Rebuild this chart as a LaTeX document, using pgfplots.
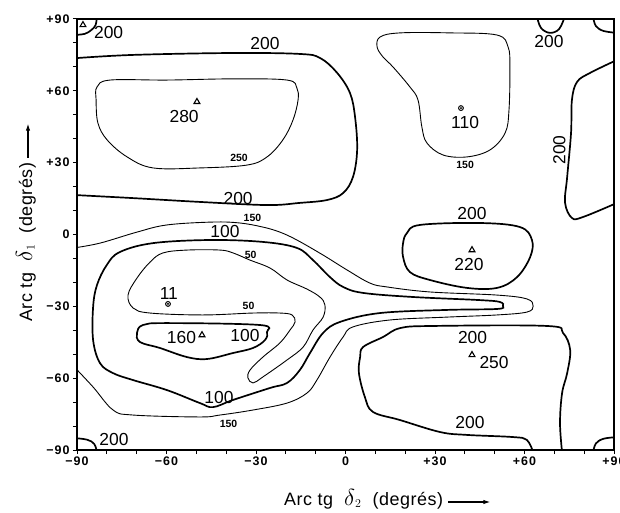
\documentclass[border=0pt]{standalone}
\usepackage{fontspec}
\setmainfont{Liberation Sans}
\usepackage{pgfplots}
\pgfplotsset{compat=1.18}
\usetikzlibrary{arrows.meta}

\begin{document}
\begin{tikzpicture}[
  big/.style={font=\fontsize{17.5}{18}\selectfont, inner sep=0.5pt},
  small/.style={font=\bfseries\fontsize{10.5}{11}\selectfont, inner sep=0.5pt},
  thickc/.style={line width=1.7pt, smooth, tension=0.6},
  thinc/.style={line width=0.9pt, smooth, tension=0.6},
  lbl/.style={font=\addfontfeature{LetterSpace=3}\fontsize{18}{18}\selectfont, inner sep=0pt},
]
\begin{axis}[
  scale only axis, width=537bp, height=431bp,
  xmin=-90, xmax=90, ymin=-90, ymax=90,
  axis line style={line width=1.6pt},
  xtick={-90,-60,-30,0,30,60,90},
  ytick={-90,-60,-30,0,30,60,90},
  xticklabels={−90,−60,−30,0,+30,+60,+90},
  yticklabels={−90,−60,−30,0,+30,+60,+90},
  minor tick num=2,
  tick pos=left, tick align=outside,
  major tick length=4bp, minor tick length=4bp,
  every tick/.style={black, line width=1pt},
  ticklabel style={font=\bfseries\addfontfeature{LetterSpace=8}\fontsize{12.5}{13}\selectfont},
  xticklabel style={yshift=1bp},
]
\coordinate (bl) at (rel axis cs:0,0);
\coordinate (tr) at (rel axis cs:1,1);

% corner arcs (200)
\addplot[thickc] coordinates {(-91,83.3) (-87.4,83.8) (-85.3,85.3) (-83.8,87.4) (-83.3,91)};
\addplot[thickc] coordinates {(83,91) (83.9,87.1) (86.5,85.0) (91,84.2)};
\addplot[thickc] coordinates {(-91,-85) (-86.6,-85.7) (-84.2,-87.5) (-83.3,-91)};
\addplot[thickc] coordinates {(83,-91) (83.9,-87.3) (86.5,-85.3) (91,-84.6)};
\addplot[thickc] coordinates {(64.2,91) (65.5,86.3) (68.5,84.2) (71.6,85.8) (73.5,91)};

% 200 upper band
\addplot[thickc] coordinates {(-91,73.6) (-71.2,75.0) (-37.7,75.8) (-15.3,75.4) (-8.5,73.7)
  (-2.8,67.5) (1.5,59.1) (3.2,49.1) (3.9,35.3) (2.5,24.0) (-0.8,17.3) (-6.2,14.4)
  (-15.3,13.2) (-26.3,12.3) (-48.8,13.6) (-71.2,15.2) (-91,16.5)};

% 250 around 280
\addplot[thinc, smooth cycle] coordinates {(-78.9,64.5) (-59.8,64.5) (-37.7,65.0) (-19.6,64.5)
  (-16.3,61.2) (-15.9,56.2) (-17.6,47.8) (-21.0,39.5) (-26.3,32.4) (-33.0,29.0) (-48.8,27.8)
  (-64.5,27.8) (-73.2,32.4) (-79.9,39.5) (-83.0,46.6) (-83.6,56.2) (-83.3,61.6)};

% 150 around 110
\addplot[thinc, smooth cycle] coordinates {(11.6,82.5) (18.3,84.2) (35.0,84.2) (50.8,83.3)
  (54.5,78.3) (55.1,70.0) (54.8,52.0) (53.5,42.4) (48.4,35.3) (40.7,32.4) (32.7,33.2)
  (27.3,38.2) (25.6,44.9) (24.3,56.2) (21.6,61.6) (15.9,70.0) (12.6,74.1) (10.6,78.3)};

% 200 right
\addplot[thickc] coordinates {(91,72.9) (82,67.5) (77.6,63.7) (75.9,56.2) (75.6,42.4)
  (74.3,24.0) (73.6,13.2) (75.9,6.9) (79.6,7.3) (91,13.2)};

% 200 around 220
\addplot[thickc, smooth cycle] coordinates {(20.6,0.6) (25.0,4.0) (45.1,4.8) (58.5,3.1)
  (62.5,-2.3) (61.9,-9.4) (57.5,-17.8) (50.8,-22.3) (40.7,-22.3) (28.3,-19.0) (21.6,-15.7)
  (19.3,-9.4) (19.3,-3.6)};

% 200 around 250
\addplot[thickc] coordinates {(62.9,-91) (60.8,-85.8) (56.2,-84.6) (40.7,-83.7) (31.7,-82.5)
  (18.3,-77.5) (9.2,-74.1) (6.5,-67.9) (4.5,-57.9) (4.9,-51.2) (5.9,-47.0) (12.6,-42.8)
  (18.3,-39.1) (29.3,-38.2) (67.5,-38.2) (72.9,-41.1) (75.3,-48.2) (74.3,-57.9) (72.6,-66.2)
  (71.9,-78.7) (72.6,-91)};

% 150 lower left with tongue
\addplot[thinc] coordinates {(-91,-5.6) (-82.3,-3.6) (-69.9,1.0) (-59.8,4.0) (-44.4,5.2)
  (-35.4,4.8) (-27.7,3.1) (-22.0,1.0) (-16.3,-2.3) (-7.5,-8.6) (0.5,-14.8) (8.2,-20.3)
  (13.9,-21.9) (28.3,-24.0) (50.8,-25.3) (60.8,-26.9) (62.9,-29.9) (60.8,-32.4) (50.8,-33.6)
  (34.0,-34.5) (14.9,-35.7) (2.5,-38.6) (-0.8,-42.8) (-5.2,-51.2) (-9.6,-60.8) (-12.9,-66.2)
  (-19.6,-70.4) (-31.0,-73.3) (-42.1,-75.4) (-48.8,-76.2) (-71.2,-75.4) (-77.9,-73.3)
  (-84.6,-63.7) (-91,-55.2)};

% 100 outer loop
\addplot[thickc, smooth cycle] coordinates {(-84.6,-44.1) (-84.6,-30.3) (-83.3,-21.1)
  (-80.0,-12.7) (-75.6,-7.3) (-64.5,-3.6) (-45.4,-2.3) (-27.7,-3.1) (-16.3,-5.6) (-10.9,-10.7)
  (-5.2,-17.8) (-0.8,-21.9) (5.9,-24.4) (22.6,-26.1) (45.1,-27.4) (51.8,-28.2) (52.8,-29.9)
  (50.8,-31.1) (34.0,-31.5) (11.6,-32.8) (-1.8,-36.5) (-7.5,-41.1) (-11.9,-49.5) (-15.3,-56.6)
  (-19.6,-62.0) (-25.3,-64.1) (-37.7,-69.1) (-44.4,-72.1) (-48.8,-70.4) (-59.8,-65.0)
  (-71.2,-60.8) (-77.9,-57.9) (-82.3,-53.7)};

% 50 hook
\addplot[thinc, smooth cycle] coordinates {(-72.9,-25.3) (-69.9,-18.2) (-65.5,-11.5)
  (-61.2,-7.7) (-53.1,-6.5) (-42.1,-6.5) (-37.7,-7.7) (-32.0,-10.7) (-25.3,-14.0) (-19.6,-19.0)
  (-12.9,-22.8) (-8.6,-26.1) (-6.9,-29.4) (-7.5,-34.5) (-10.9,-39.9) (-14.2,-47.0) (-19.6,-52.4)
  (-27.7,-59.5) (-31.0,-62.0) (-32.7,-59.9) (-32.0,-56.6) (-27.7,-51.2) (-22.0,-45.3)
  (-18.6,-39.9) (-16.9,-36.5) (-17.9,-33.6) (-22.0,-32.8) (-31.0,-32.8) (-47.8,-33.6)
  (-65.5,-32.8) (-71.2,-30.7)};

% 100 around 160
\addplot[thickc, smooth cycle] coordinates {(-69.9,-41.1) (-67.9,-37.8) (-59.8,-37.0)
  (-28.7,-37.8) (-26.3,-40.7) (-27.0,-44.1) (-31.0,-47.4) (-37.7,-49.5) (-46.4,-52.0)
  (-53.1,-51.2) (-62.2,-47.4) (-68.9,-44.9)};

% extrema
\addplot[only marks, mark=triangle, mark size=3.4bp, line width=1.1pt] coordinates
  {(-88,87.5) (-49.8,55.4) (42.4,-6.5) (42.4,-50.3) (-48.1,-42.0)};
\addplot[only marks, mark=o, mark size=2.4bp, line width=1pt] coordinates
  {(38.7,52.8) (-59.5,-29.0)};
\addplot[only marks, mark=*, mark size=0.7bp] coordinates {(38.7,52.8) (-59.5,-29.0)};

% contour labels
\node[big] at (axis cs:-79.4,84.2) {200};
\node[big] at (axis cs:-27.0,79.6) {200};
\node[big] at (axis cs:-54.1,49.2) {280};
\node[big] at (axis cs:-36.0,15.0) {200};
\node[big] at (axis cs:-40.4,1.25) {100};
\node[big] at (axis cs:-59.2,-24.6) {11};
\node[big] at (axis cs:-55.0,-43.2) {160};
\node[big] at (axis cs:-33.7,-42.2) {100};
\node[big] at (axis cs:-42.4,-68.1) {100};
\node[big] at (axis cs:-77.6,-85.8) {200};
\node[big] at (axis cs:40.1,46.8) {110};
\node[big] at (axis cs:68.2,80.6) {200};
\node[big, rotate=90] at (axis cs:71.7,35.3) {200};
\node[big] at (axis cs:42.4,8.8) {200};
\node[big] at (axis cs:41.4,-12.5) {220};
\node[big] at (axis cs:42.6,-43.0) {200};
\node[big] at (axis cs:49.8,-53.5) {250};
\node[big] at (axis cs:41.7,-78.5) {200};
\node[small] at (axis cs:-35.7,32.0) {250};
\node[small] at (axis cs:-31.2,7.1) {150};
\node[small] at (axis cs:-31.8,-8.6) {50};
\node[small] at (axis cs:-32.5,-29.7) {50};
\node[small] at (axis cs:-39.2,-79.2) {150};
\node[small] at (axis cs:40.1,29.0) {150};
\end{axis}

\node[lbl, anchor=base west] (xl) at ([shift={(207bp,-55bp)}]bl)
  {Arc tg\ \ \scalebox{1.35}{$\delta$}$_{2}$\ \ (degrés)};
\draw[line width=1.1pt, -{Latex[length=7bp,width=4.5bp]}]
  ([shift={(5bp,3bp)}]xl.base east) -- ++(42bp,0);
\node[lbl, anchor=base west, rotate=90] (yl) at ([shift={(-45bp,128bp)}]bl)
  {Arc tg\ \ \scalebox{1.35}{$\delta$}$_{1}$\ \ (degrés)};
\draw[line width=1.1pt, -{Latex[length=7bp,width=4.5bp]}]
  ([shift={(-4bp,5bp)}]yl.base east) -- ++(0,34bp);

\pgfresetboundingbox
\path ([shift={(-77bp,-63bp)}]bl) rectangle ([shift={(6bp,19bp)}]tr);
\end{tikzpicture}
\end{document}
